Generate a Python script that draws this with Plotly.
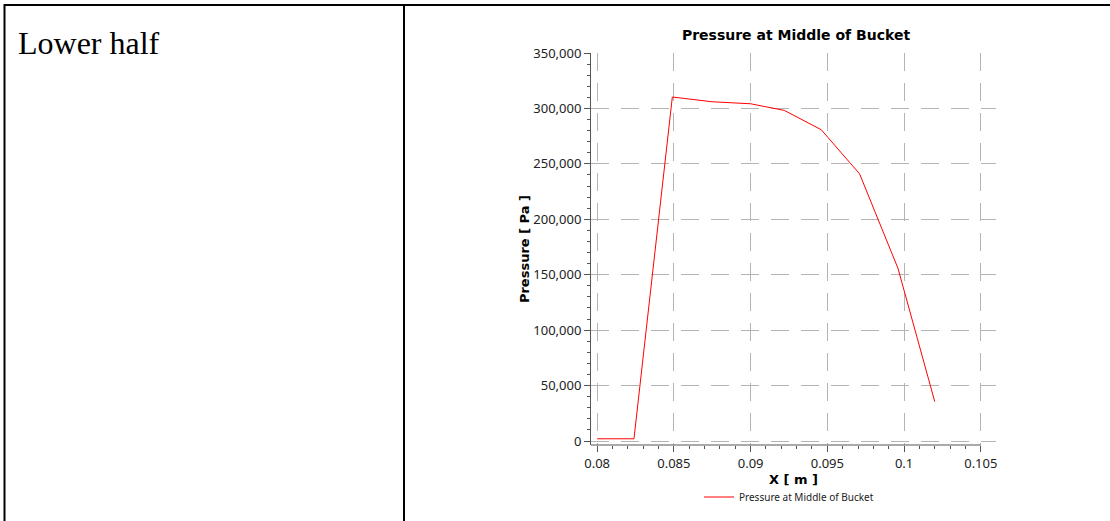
import plotly.graph_objects as go

# Pressure sampled along X at the middle of the bucket (lower half)
x_m = [0.0800, 0.0824, 0.0849, 0.0875, 0.0900, 0.0922, 0.0946, 0.0971, 0.0996, 0.1020]
pressure_pa = [2000, 2000, 310300, 306000, 304200, 298200, 280800, 241000, 155900, 35500]

x_ticks = [0.08, 0.085, 0.09, 0.095, 0.1, 0.105]
x_tick_text = ["0.08", "0.085", "0.09", "0.095", "0.1", "0.105"]
y_ticks = [0, 50000, 100000, 150000, 200000, 250000, 300000, 350000]

x_range = [0.0796, 0.10599]
y_range = [-3600, 350000]

W, H = 1110, 521
L, R, T, B = 591, 114, 53, 76
PW, PH = W - L - R, H - T - B


def fx(px):
    return (px - L) / PW


def fy(py):
    return (H - B - py) / PH


TICK_FONT = dict(family="Noto Sans", size=13, color="#222222")
BOLD = "DejaVu Sans"
GRID = dict(showgrid=True, gridcolor="#b4b4b4", gridwidth=1, griddash="18px,12px")

fig = go.Figure()
fig.add_trace(go.Scatter(
    x=x_m, y=pressure_pa, mode="lines",
    line=dict(color="#ff0000", width=1),
    name="Pressure at Middle of Bucket",
))

fig.update_layout(
    width=W, height=H,
    margin=dict(l=L, r=R, t=T, b=B, autoexpand=False),
    paper_bgcolor="white", plot_bgcolor="white",
    showlegend=True,
    legend=dict(
        orientation="h", x=fx(789), xanchor="center", y=fy(497), yanchor="middle",
        font=dict(family="Noto Sans", size=10, color="#222222"),
        bgcolor="rgba(0,0,0,0)", itemwidth=30,
    ),
    title=dict(
        text="<b>Pressure at Middle of Bucket</b>",
        font=dict(family=BOLD, size=14, color="#000000"),
        x=fx(796), xanchor="center", xref="paper",
        y=1 - 35 / H, yanchor="middle",
    ),
)

fig.update_xaxes(
    range=x_range, tickvals=x_ticks, ticktext=x_tick_text,
    ticks="outside", ticklen=6, tickcolor="#555555", tickwidth=1,
    tickfont=TICK_FONT, showline=False, zeroline=False,
    minor=dict(dtick=0.001, tick0=0.08, ticks="outside", ticklen=3,
               tickcolor="#555555", showgrid=False),
    title=dict(text="<b>X [ m ]</b>", font=dict(family=BOLD, size=13, color="#000000"),
               standoff=3),
    **GRID,
)
fig.update_yaxes(
    range=y_range, tickvals=y_ticks, tickformat=",d",
    ticks="outside", ticklen=6, tickcolor="#555555", tickwidth=1,
    tickfont=TICK_FONT, showline=True, linecolor="#555555", linewidth=1,
    zeroline=False,
    minor=dict(dtick=10000, tick0=0, ticks="outside", ticklen=3,
               tickcolor="#555555", showgrid=False),
    title=dict(text="<b>Pressure [ Pa ]</b>", font=dict(family=BOLD, size=13, color="#000000"),
               standoff=0),
    **GRID,
)

# x-axis baseline running from the left edge up to the last labelled tick
fig.add_shape(type="line", xref="x", yref="paper",
              x0=x_range[0], x1=x_ticks[-1], y0=0, y1=0,
              line=dict(color="#555555", width=1))

# Table frame around the two cells
frame = dict(color="#000000", width=2)
fig.add_shape(type="line", xref="paper", yref="paper",
              x0=fx(4), x1=fx(1112), y0=fy(5), y1=fy(5), line=frame)
fig.add_shape(type="line", xref="paper", yref="paper",
              x0=fx(4.5), x1=fx(4.5), y0=fy(4), y1=fy(525), line=frame)
fig.add_shape(type="line", xref="paper", yref="paper",
              x0=fx(404), x1=fx(404), y0=fy(4), y1=fy(525), line=frame)

fig.add_annotation(
    text="Lower half", xref="paper", yref="paper",
    x=fx(16), y=fy(43), xanchor="left", yanchor="middle",
    showarrow=False,
    font=dict(family="Liberation Serif", size=32, color="#000000"),
)

fig.write_html("out.html")
